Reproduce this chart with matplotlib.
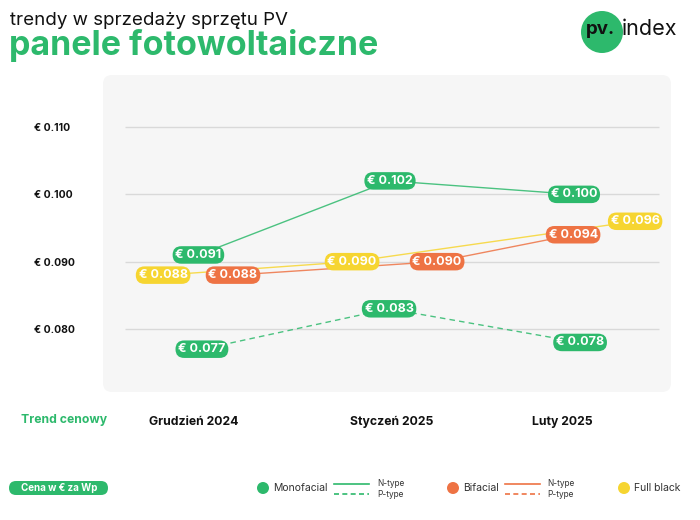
import matplotlib
matplotlib.use("Agg")
import matplotlib.pyplot as plt
from matplotlib.patches import FancyBboxPatch, Circle
from matplotlib.lines import Line2D

# ---------------- data ----------------
categories = ["Grudzień 2024", "Styczeń 2025", "Luty 2025"]
mono_n = [0.091, 0.102, 0.100]
mono_p = [0.077, 0.083, 0.078]
bifacial = [0.088, 0.090, 0.094]
full_black = [0.088, 0.090, 0.096]
y_ticks = [0.080, 0.090, 0.100, 0.110]
y_tick_labels = ["€ 0.080", "€ 0.090", "€ 0.100", "€ 0.110"]

# ---------------- layout / style ----------------
GREEN = "#2DB96C"
ORANGE = "#EE7344"
YELLOW = "#F6D531"
PANEL = "#F6F6F6"
GRID = "#D9D9D9"
FONT = "Inter"

cat_pos = [0.0, 1.076, 2.0]
# horizontal offsets of the value badges relative to category position
off_mono_n = [0.024, -0.011, 0.065]
off_mono_p = [0.043, -0.016, 0.098]
off_bif = [0.212, 0.245, 0.060]
off_fb = [-0.168, -0.217, 0.397]

plt.rcParams["font.family"] = [FONT, "DejaVu Sans"]

W, H = 700, 520
fig = plt.figure(figsize=(W / 100, H / 100), dpi=100)
fig.patch.set_facecolor("white")
T = fig.dpi_scale_trans


def P(px, py):
    return px / 100.0, (H - py) / 100.0


def pill(cx, cy, w, h, color, z=0):
    x, y = P(cx - w / 2, cy + h / 2)
    fig.patches.append(FancyBboxPatch((x, y), w / 100, h / 100,
                                      boxstyle=f"round,pad=0,rounding_size={h / 200}",
                                      transform=T, facecolor=color, edgecolor="none",
                                      zorder=z))


# gray rounded panel
x0, y0 = P(103, 392)
fig.patches.append(FancyBboxPatch((x0, y0), 5.68, 3.17,
                                  boxstyle="round,pad=0,rounding_size=0.09",
                                  transform=T, facecolor=PANEL, edgecolor="none",
                                  zorder=-5))

ax = fig.add_axes([103 / W, (H - 392) / H, 568 / W, 317 / H])
ax.set_zorder(2)
ax.patch.set_alpha(0)
for s in ax.spines.values():
    s.set_visible(False)
ax.set_xlim(-0.4946, 2.592)
ax.set_ylim(0.07064, 0.11773)

ax.hlines(y_ticks, -0.375, 2.527, color=GRID, lw=1.0, zorder=1)

ax.set_yticks(y_ticks)
ax.set_yticklabels(y_tick_labels, fontsize=7.5, fontweight="bold", color="#111111")
ax.tick_params(axis="y", length=0, pad=49.5)
for lab in ax.get_yticklabels():
    lab.set_horizontalalignment("left")

ax.set_xticks(cat_pos)
ax.set_xticklabels(categories, fontsize=8.8, fontweight="bold", color="#111111")
ax.tick_params(axis="x", length=0, pad=17)


def series(vals, offs, color, ls, textcolor="white"):
    xs = [c + o for c, o in zip(cat_pos, offs)]
    ax.plot(xs, vals, color=color, lw=1.0, ls=ls, alpha=0.85, zorder=2,
            dashes=(4, 3) if ls == "--" else (None, None))
    for x, v in zip(xs, vals):
        ax.text(x, v, f"€ {v:.3f}", ha="center", va="center", fontsize=9,
                fontweight="bold", color=textcolor, zorder=5,
                bbox=dict(boxstyle="round,pad=0.22,rounding_size=0.7",
                          facecolor=color, edgecolor="none"))


series(full_black, off_fb, YELLOW, "-")
series(bifacial, off_bif, ORANGE, "-")
series(mono_p, off_mono_p, GREEN, "--")
series(mono_n, off_mono_n, GREEN, "-")

# ---------------- header ----------------
fig.text(*P(10, 25), "trendy w sprzedaży sprzętu PV", transform=T, fontsize=13.5,
         color="#111111", va="baseline", ha="left")
fig.text(*P(9, 55), "panele fotowoltaiczne", transform=T, fontsize=24.5,
         fontweight="bold", color=GREEN, va="baseline", ha="left")

# logo
fig.patches.append(Circle(P(602, 32), 0.21, transform=T, facecolor=GREEN,
                          edgecolor="none"))
fig.text(*P(600, 30), "pv.", transform=T, fontsize=13.5, fontweight="bold",
         color="#111111", ha="center", va="center")
fig.text(*P(622, 29), "index", transform=T, fontsize=15.5, color="#111111",
         ha="left", va="center")

# ---------------- bottom ----------------
fig.text(*P(21, 420), "Trend cenowy", transform=T, fontsize=8.8, fontweight="bold",
         color=GREEN, ha="left", va="center")

pill(58.5, 488, 99, 14, GREEN)
fig.text(*P(59, 488), "Cena w € za Wp", transform=T, fontsize=7,
         fontweight="bold", color="white", ha="center", va="center")


def legend_item(cx, label, color, with_lines, line_x=None, tag_x=None):
    fig.patches.append(Circle(P(cx, 488), 0.06, transform=T, facecolor=color,
                              edgecolor="none"))
    fig.text(*P(cx + 10, 488), label, transform=T, fontsize=7.5, color="#333333",
             ha="left", va="center")
    if with_lines:
        xa, ya = P(line_x, 483.5)
        xb, _ = P(line_x + 35, 483.5)
        fig.lines.append(Line2D([xa, xb], [ya, ya], transform=T, color=color, lw=1.2))
        _, yb = P(line_x, 494)
        fig.lines.append(Line2D([xa, xb], [yb, yb], transform=T, color=color, lw=1.2,
                                ls="--", dashes=(3, 2)))
        fig.text(*P(tag_x, 483.5), "N-type", transform=T, fontsize=6,
                 color="#333333", ha="left", va="center")
        fig.text(*P(tag_x, 494.5), "P-type", transform=T, fontsize=6,
                 color="#333333", ha="left", va="center")


legend_item(263, "Monofacial", GREEN, True, 334, 377)
legend_item(453, "Bifacial", ORANGE, True, 505, 547)
legend_item(624, "Full black", YELLOW, False)

fig.savefig("out.png", dpi=100, facecolor="white")
